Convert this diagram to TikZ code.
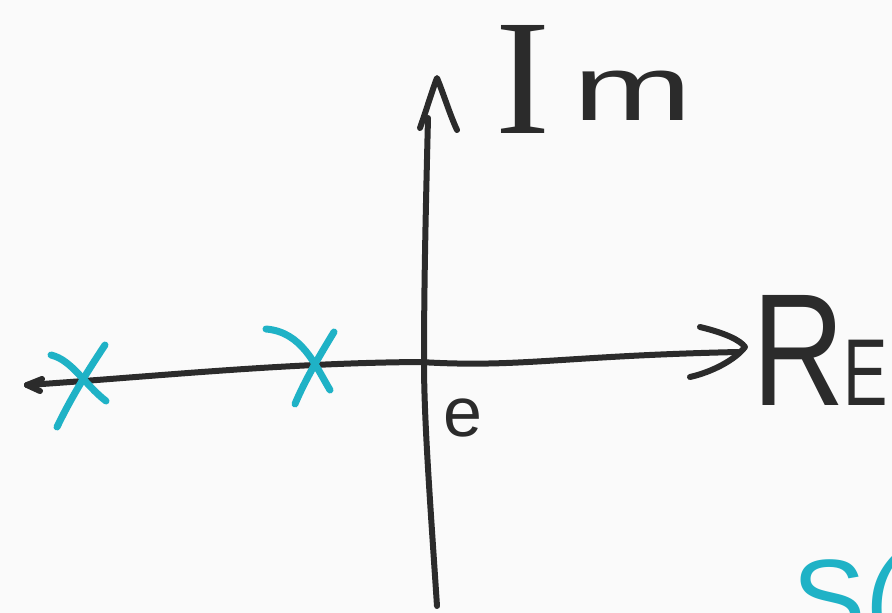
\documentclass[tikz,border=0pt]{standalone}
\usepackage{fontspec}
\setmainfont{Liberation Sans}
\newfontfamily\serifhand{Liberation Serif}
\definecolor{ink}{HTML}{2B2B2B}
\definecolor{pole}{HTML}{1FB2C6}
\definecolor{paper}{HTML}{FAFAFA}
\tikzset{
  pen/.style={draw=ink, line width=6pt, line cap=round, line join=round},
  polepen/.style={draw=pole, line width=7pt, line cap=round, line join=round},
  handtext/.style={text=ink, inner sep=0pt, anchor=base west},
}
\begin{document}
\begin{tikzpicture}[x=1pt,y=-1pt]
\fill[paper] (0,0) rectangle (892,613);
\useasboundingbox (0,0) rectangle (892,613);
\begin{scope}
\clip (0,0) rectangle (892,613);
% real axis
\coordinate (reL) at (27,385);
\coordinate (reR) at (738,352);
\draw[pen] (reL) .. controls (150,377) and (280,363) .. (420,362)
  .. controls (520,368) and (560,356) .. (reR);
\draw[pen] (reL) -- (42,379);
\draw[pen] (reL) -- (40,391);
\draw[pen] (700,327) .. controls (725,333) and (740,340) .. (745,347)
  .. controls (735,360) and (712,372) .. (690,377);
% imaginary axis
\coordinate (imB) at (437,606);
\coordinate (imT) at (428,118);
\draw[pen] (imB) .. controls (430,500) and (424,420) .. (424,362)
  .. controls (424,280) and (426,200) .. (imT);
\draw[pen] (420,128) .. controls (428,105) and (433,88) .. (437,78)
  .. controls (444,95) and (450,115) .. (457,130);
% labels
\node[handtext, font=\serifhand\fontsize{165}{165}\selectfont] (im) at (495,133) {I};
\node[handtext, xscale=1.55, font=\fontsize{92}{92}\selectfont] (imm) at (573,120) {m};
\node[handtext, xscale=0.8, font=\fontsize{160}{160}\selectfont] (reR1) at (752,405) {R};
\node[handtext, xscale=0.7, font=\fontsize{95}{95}\selectfont] (reE) at (843,405) {E};
\node[handtext, font=\fontsize{70}{70}\selectfont] (orig) at (443,436) {e};
\node[text=pole, inner sep=0pt, anchor=base west, font=\fontsize{110}{110}\selectfont] (sfun) at (792,636) {S(};
% poles
\draw[polepen] (51,355) .. controls (72,360) and (85,385) .. (106,401);
\draw[polepen] (105,345) .. controls (85,375) and (70,400) .. (57,427);
\draw[polepen] (266,329) .. controls (302,332) and (315,365) .. (330,390);
\draw[polepen] (334,332) .. controls (320,355) and (305,380) .. (295,404);
\end{scope}
\end{tikzpicture}
\end{document}
